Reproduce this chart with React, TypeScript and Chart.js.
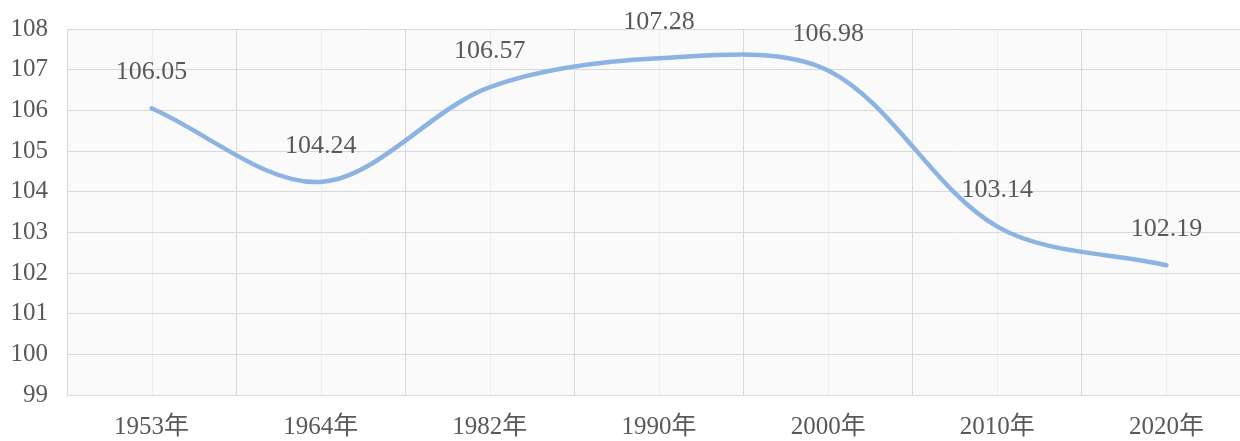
import React, { useEffect, useRef } from "react";
import { Chart, registerables } from "chart.js";

Chart.register(...registerables);

const categories = ["1953年", "1964年", "1982年", "1990年", "2000年", "2010年", "2020年"];
const sexRatio = [106.05, 104.24, 106.57, 107.28, 106.98, 103.14, 102.19];
const yMin = 99;
const yMax = 108;

const FONT = "'Liberation Serif', 'Times New Roman', 'Noto Sans CJK SC', serif";
const TEXT = "#595959";

const bgPlugin = {
  id: "plotBg",
  beforeDraw(chart: any) {
    const { ctx, chartArea } = chart;
    ctx.save();
    ctx.fillStyle = "#fafafa";
    ctx.fillRect(chartArea.left, chartArea.top, chartArea.right - chartArea.left, chartArea.bottom - chartArea.top);
    const xs = chart.scales.x;
    ctx.strokeStyle = "#ededed";
    ctx.lineWidth = 1;
    for (let i = 0; i < categories.length; i++) {
      const x = Math.round(xs.getPixelForValue(i)) + 0.5;
      ctx.beginPath();
      ctx.moveTo(x, chartArea.top);
      ctx.lineTo(x, chartArea.bottom);
      ctx.stroke();
    }
    ctx.restore();
  },
};

const labelPlugin = {
  id: "valueLabels",
  afterDatasetsDraw(chart: any) {
    const { ctx } = chart;
    const meta = chart.getDatasetMeta(0);
    ctx.save();
    ctx.font = `26px ${FONT}`;
    ctx.fillStyle = TEXT;
    ctx.textAlign = "center";
    ctx.textBaseline = "middle";
    meta.data.forEach((pt: any, i: number) => {
      ctx.fillText(sexRatio[i].toFixed(2), pt.x, pt.y - 36);
    });
    ctx.restore();
  },
};

export default function App() {
  const ref = useRef<HTMLCanvasElement>(null);
  useEffect(() => {
    if (!ref.current) return;
    const chart = new Chart(ref.current, {
      type: "line",
      data: {
        labels: categories,
        datasets: [
          {
            data: sexRatio,
            borderColor: "#8db3e2",
            borderWidth: 4.5,
            pointRadius: 0,
            tension: 0.33,
            fill: false,
            borderCapStyle: "round",
          },
        ],
      },
      options: {
        animation: false,
        responsive: false,
        devicePixelRatio: 1,
        layout: { padding: { top: 29, left: 0, right: 0, bottom: 0 } },
        plugins: { legend: { display: false }, tooltip: { enabled: false } },
        scales: {
          x: {
            offset: true,
            grid: { offset: true, color: "#d9d9d9", drawTicks: false, lineWidth: 1 },
            border: { color: "#d9d9d9" },
            ticks: { color: TEXT, font: { family: FONT, size: 25 }, padding: 17, maxRotation: 0 },
            afterFit(scale: any) {
              scale.height = 46;
              scale.paddingLeft = 0;
              scale.paddingRight = 0;
            },
          },
          y: {
            min: yMin,
            max: yMax,
            ticks: { stepSize: 1, color: TEXT, font: { family: FONT, size: 25 }, padding: 19 },
            grid: { color: "#d9d9d9", drawTicks: false, lineWidth: 1 },
            border: { color: "#d9d9d9" },
            afterFit(scale: any) {
              scale.width = 67;
              scale.paddingTop = 0;
              scale.paddingBottom = 0;
            },
          },
        },
      },
      plugins: [bgPlugin, labelPlugin],
    });
    return () => chart.destroy();
  }, []);
  return (
    <div style={{ position: "fixed", left: 0, top: 0, width: 1240, height: 441, overflow: "hidden", background: "#fff" }}>
      <canvas ref={ref} width={1251} height={441} style={{ display: "block" }} />
    </div>
  );
}
